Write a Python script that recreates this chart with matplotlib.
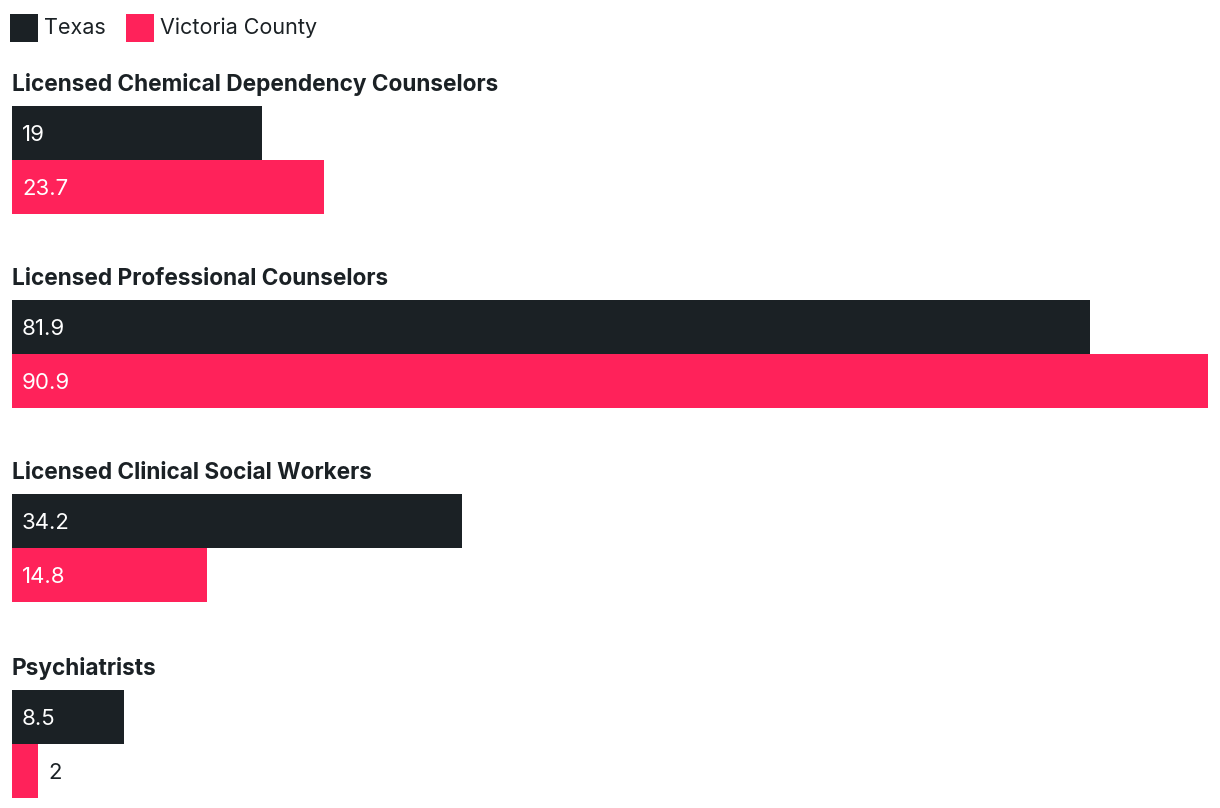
import matplotlib.pyplot as plt
import numpy as np

plt.rcParams['font.family'] = ['Inter', 'DejaVu Sans']

categories = ["Licensed Chemical Dependency Counselors",
              "Licensed Professional Counselors",
              "Licensed Clinical Social Workers",
              "Psychiatrists"]
texas = [19, 81.9, 34.2, 8.5]
victoria = [23.7, 90.9, 14.8, 2]
series_names = ["Texas", "Victoria County"]

dark = "#1b2125"
pink = "#ff225a"

W, H = 1220, 808
fig = plt.figure(figsize=(W / 100, H / 100), dpi=100)
ax = fig.add_axes([0, 0, 1, 1])
ax.axis('off')

left_px, right_px = 12, 1208
vmax = max(max(texas), max(victoria))
scale = (right_px - left_px) / vmax
ax.set_xlim(-left_px / scale, (W - left_px) / scale)
ax.set_ylim(H, 0)

bar_h = 54
group_top = [106, 300, 494, 690]

for i, cat in enumerate(categories):
    top = group_top[i]
    ax.text(0, top - 15, cat, fontsize=16.3, fontweight='bold', color=dark,
            va='baseline', ha='left')
    for j, (vals, col) in enumerate([(texas, dark), (victoria, pink)]):
        y0 = top + j * bar_h
        v = vals[i]
        ax.barh(y0 + bar_h / 2, v, height=bar_h, left=0, color=col, linewidth=0)
        label = f"{v:g}"
        bar_px = v * scale
        if bar_px > 60:
            ax.text(10 / scale, y0 + bar_h / 2 + 8, label, fontsize=16,
                    color='white', va='baseline', ha='left')
        else:
            ax.text(v + 10 / scale, y0 + bar_h / 2 + 8, label, fontsize=16,
                    color=dark, va='baseline', ha='left')

# legend
lx = 10
for name, col in zip(series_names, [dark, pink]):
    ax.add_patch(plt.Rectangle(((lx - left_px) / scale, 14), 28 / scale, 28,
                               color=col, linewidth=0))
    t = ax.text((lx + 34 - left_px) / scale, 34, name, fontsize=15.5,
                color=dark, va='baseline', ha='left')
    fig.canvas.draw()
    bb = t.get_window_extent()
    lx = bb.x1 + 20

fig.savefig("out.png", dpi=100)
